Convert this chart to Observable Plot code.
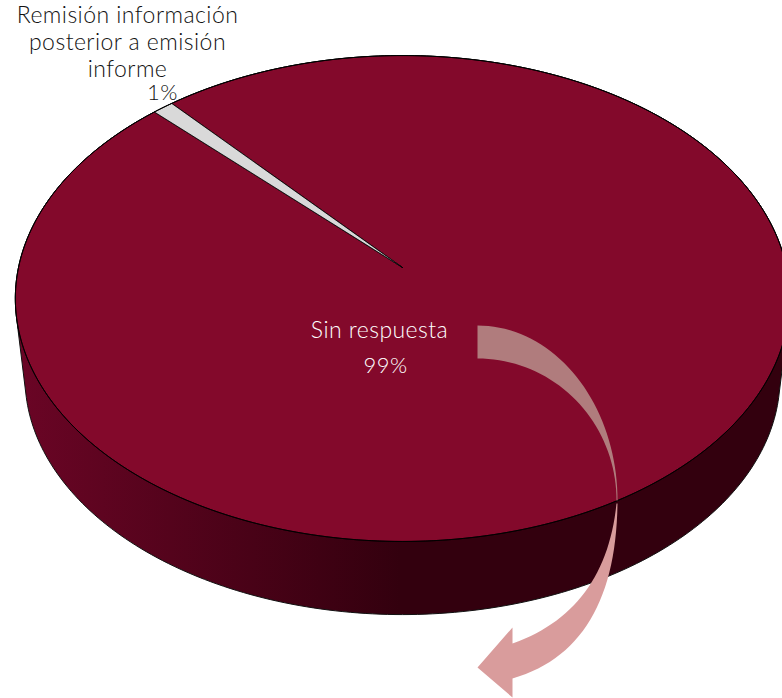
<!DOCTYPE html>
<html lang="es">
<head>
<meta charset="utf-8">
<style>
html,body{margin:0;padding:0;background:#fff;overflow:hidden}
svg{display:block}
</style>
<script src="https://cdn.jsdelivr.net/npm/d3@7"></script>
<script src="https://cdn.jsdelivr.net/npm/@observablehq/plot@0.6"></script>
</head>
<body>
<div id="chart"></div>
<script>
// Data
const categories = ["Sin respuesta", "Remisión información\nposterior a emisión\ninforme"];
const shares = [99, 1];
const shareLabels = ["99%", "1%"];

// Chart presentation
const W = 782, H = 698;
const firstSliceDeg = -41.2;
const topFace = {cx: 402, cy: 267, rx: 384, ry: 239, k: 0.1276};
const baseFace = {cx: 402, cy: 347, rx: 374.4, ry: 233, k: 0.1276};
const sliceColors = ["#83092b", "#d9d9d9"];
const wallLight = "#6a0525", wallDark = "#33000e";

const rad = d => d * Math.PI / 180;
function rim(face, deg) {
  const u = Math.sin(rad(deg)), v = Math.cos(rad(deg)), w = 1 + face.k * v;
  return {x: face.cx + face.rx * u / w, y: face.cy - face.ry * v / w};
}

// Pie angles come from the shares
const total = d3.sum(shares);
let running = firstSliceDeg;
const slices = categories.map((name, i) => {
  const a0 = running, a1 = running + shares[i] / total * 360;
  running = a1;
  return {name, a0, a1, color: sliceColors[i]};
});
const slicePoints = slices.flatMap(s => {
  const n = Math.max(2, Math.ceil((s.a1 - s.a0) * 2));
  const apex = {x: topFace.cx, y: topFace.cy, name: s.name, color: s.color};
  const arc = d3.range(n + 1).map(i => ({...rim(topFace, s.a0 + (s.a1 - s.a0) * i / n), name: s.name, color: s.color}));
  return [apex, ...arc, apex];
});

// Extruded wall: outline of both rims, shaded left to right
const hull = d3.polygonHull(d3.range(0, 360, 1).flatMap(a => {
  const t = rim(topFace, a), b = rim(baseFace, a);
  return [[t.x, t.y], [b.x, b.y]];
}));
const hullPoints = [...hull, hull[0]].map(([x, y]) => ({x, y}));
const topRim = d3.range(0, 361, 1).map(a => rim(topFace, a));

function wallGradient() {
  const defs = d3.create("svg:defs");
  const g = defs.append("linearGradient").attr("id", "wallShade")
    .attr("gradientUnits", "userSpaceOnUse")
    .attr("x1", 20).attr("x2", 400).attr("y1", 0).attr("y2", 0);
  g.append("stop").attr("offset", 0).attr("stop-color", wallLight);
  g.append("stop").attr("offset", 1).attr("stop-color", wallDark);
  return defs.node();
}

// Curved call-out arrow
const quarter = (cx, cy, rx, ry, n = 40) => d3.range(n + 1).map(i => {
  const t = rad(90 * i / n);
  return {x: cx + rx * Math.sin(t), y: cy - ry * Math.cos(t)};
});
const quad = (p0, c, p1, n = 30) => d3.range(n + 1).map(i => {
  const t = i / n, s = 1 - t;
  return {x: s * s * p0[0] + 2 * s * t * c[0] + t * t * p1[0], y: s * s * p0[1] + 2 * s * t * c[1] + t * t * p1[1]};
});
const arrowUpper = [...quarter(477, 500, 140, 175), ...quarter(477, 500, 139, 142).reverse()];
const arrowLower = [
  ...quad([617, 503], [615, 648], [512, 678]),
  {x: 512, y: 697}, {x: 477, y: 667}, {x: 512, y: 627},
  ...quad([512, 643], [605, 610], [616, 503])
];

const textFont = "Lato, 'Open Sans', sans-serif";

const plot = Plot.plot({
  width: W, height: H,
  margin: 0,
  x: {domain: [0, W], range: [0, W], axis: null},
  y: {domain: [0, H], range: [0, H], axis: null},
  color: {type: "identity"},
  style: {background: "#fff", fontFamily: textFont, letterSpacing: "0.45px"},
  marks: [
    wallGradient,
    Plot.line(hullPoints, {x: "x", y: "y", fill: "url(#wallShade)", stroke: "#111", strokeWidth: 1}),
    Plot.line(slicePoints, {x: "x", y: "y", z: "name", fill: "color", stroke: "#000", strokeWidth: 0.8}),
    Plot.line(topRim, {x: "x", y: "y", stroke: "#000", strokeWidth: 1}),
    Plot.line(arrowUpper, {x: "x", y: "y", fill: "#b07c7d", stroke: "none"}),
    Plot.line(arrowLower, {x: "x", y: "y", fill: "#d99c9c", stroke: "none"}),
    Plot.text([categories[1]], {x: () => 127, y: () => 41.2, text: d => d, fontSize: 23, fontWeight: 300, lineHeight: 1.174, fill: "#111", textAnchor: "middle"}),
    Plot.text([shareLabels[1]], {x: () => 162, y: () => 92, text: d => d, fontSize: 22, fontWeight: 300, fill: "#111", textAnchor: "middle"}),
    Plot.text([categories[0]], {x: () => 379, y: () => 330.6, text: d => d, fontSize: 23, fontWeight: 300, fill: "#ffffff", textAnchor: "middle"}),
    Plot.text([shareLabels[0]], {x: () => 385, y: () => 365, text: d => d, fontSize: 22, fontWeight: 300, fill: "#ffffff", textAnchor: "middle"})
  ]
});
document.getElementById("chart").append(plot);
</script>
</body>
</html>
